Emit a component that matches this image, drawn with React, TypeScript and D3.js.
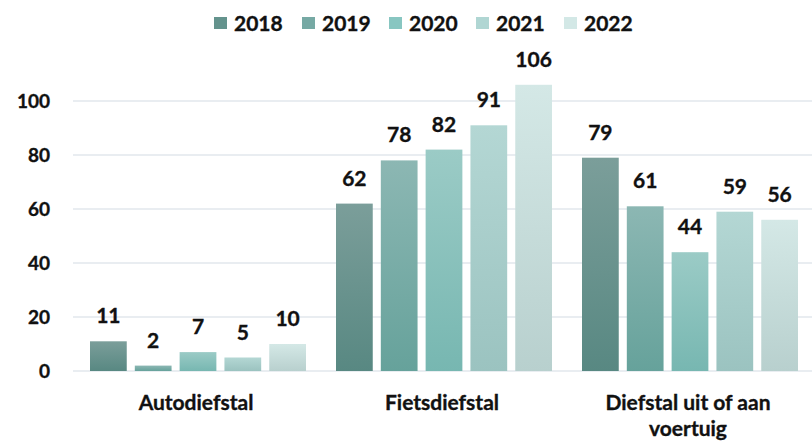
import React from "react";
import * as d3 from "d3";

const categories = ["Autodiefstal", "Fietsdiefstal", "Diefstal uit of aan voertuig"];
const years = ["2018", "2019", "2020", "2021", "2022"];
const values2018 = [11, 62, 79];
const values2019 = [2, 78, 61];
const values2020 = [7, 82, 44];
const values2021 = [5, 91, 59];
const values2022 = [10, 106, 56];
const yTicks = [0, 20, 40, 60, 80, 100];

const seriesValues = [values2018, values2019, values2020, values2021, values2022];
const topColors = ["#7b9e9a", "#8cb7b3", "#9bcbc6", "#b4d7d4", "#d4e8e6"];
const bottomColors = ["#588882", "#66a29b", "#77b7b1", "#9bc3c0", "#b8d0ce"];
const legendColors = ["#64938d", "#76a9a4", "#88c6c1", "#b0d6d3", "#d3e8e6"];

const W = 812;
const H = 443;
const FONT = "Lato, 'Open Sans', sans-serif";
const txt = { fontFamily: FONT, fontWeight: 700, fill: "#111", stroke: "#111", strokeWidth: 0.35 } as const;

export default function App() {
  const x0 = d3.scaleBand<string>().domain(categories).range([73, 811]).paddingInner(0).paddingOuter(0);
  const x1 = d3.scaleBand<string>().domain(years).range([17, 17 + 216]).paddingInner(0.18).paddingOuter(0);
  const y = d3.scaleLinear().domain([0, 100]).range([371, 101]);

  const legendX = [214, 302, 389, 476, 564];
  const cx = (c: string) => x0(c)! + x0.bandwidth() / 2;

  return (
    <svg width={W} height={H} style={{ position: "absolute", left: 0, top: 0, background: "#fff" }}>
      <defs>
        {years.map((yr, i) => (
          <linearGradient key={yr} id={`g${i}`} x1="0" y1="0" x2="0" y2="1">
            <stop offset="0%" stopColor={topColors[i]} />
            <stop offset="100%" stopColor={bottomColors[i]} />
          </linearGradient>
        ))}
      </defs>
      {yTicks.map((t) => (
        <g key={t}>
          <line x1={73} x2={812} y1={y(t)} y2={y(t)} stroke="#e2e7ec" strokeWidth={1.5} />
          <text x={50} y={y(t)} dy="0.36em" textAnchor="end" fontSize={19} {...txt}>
            {t}
          </text>
        </g>
      ))}
      {categories.map((c, ci) => (
        <g key={c} transform={`translate(${x0(c)},0)`}>
          {years.map((yr, si) => {
            const v = seriesValues[si][ci];
            const bx = x1(yr)!;
            const bw = x1.bandwidth();
            return (
              <g key={yr}>
                <rect x={bx} y={y(v)} width={bw} height={y(0) - y(v)} fill={`url(#g${si})`} />
                <text x={bx + bw / 2} y={y(v) - 18} textAnchor="middle" fontSize={21} {...txt}>
                  {v}
                </text>
              </g>
            );
          })}
        </g>
      ))}
      <text x={cx(categories[0])} y={410} textAnchor="middle" fontSize={21} {...txt}>
        {categories[0]}
      </text>
      <text x={cx(categories[1])} y={410} textAnchor="middle" fontSize={21} {...txt}>
        {categories[1]}
      </text>
      <text textAnchor="middle" fontSize={21} {...txt}>
        <tspan x={cx(categories[2])} y={410}>Diefstal uit of aan</tspan>
        <tspan x={cx(categories[2])} y={436}>voertuig</tspan>
      </text>
      {years.map((yr, i) => (
        <g key={yr}>
          <rect x={legendX[i]} y={17} width={13} height={12} fill={legendColors[i]} />
          <text x={legendX[i] + 20} y={23} dy="0.36em" fontSize={21} {...txt}>
            {yr}
          </text>
        </g>
      ))}
    </svg>
  );
}
